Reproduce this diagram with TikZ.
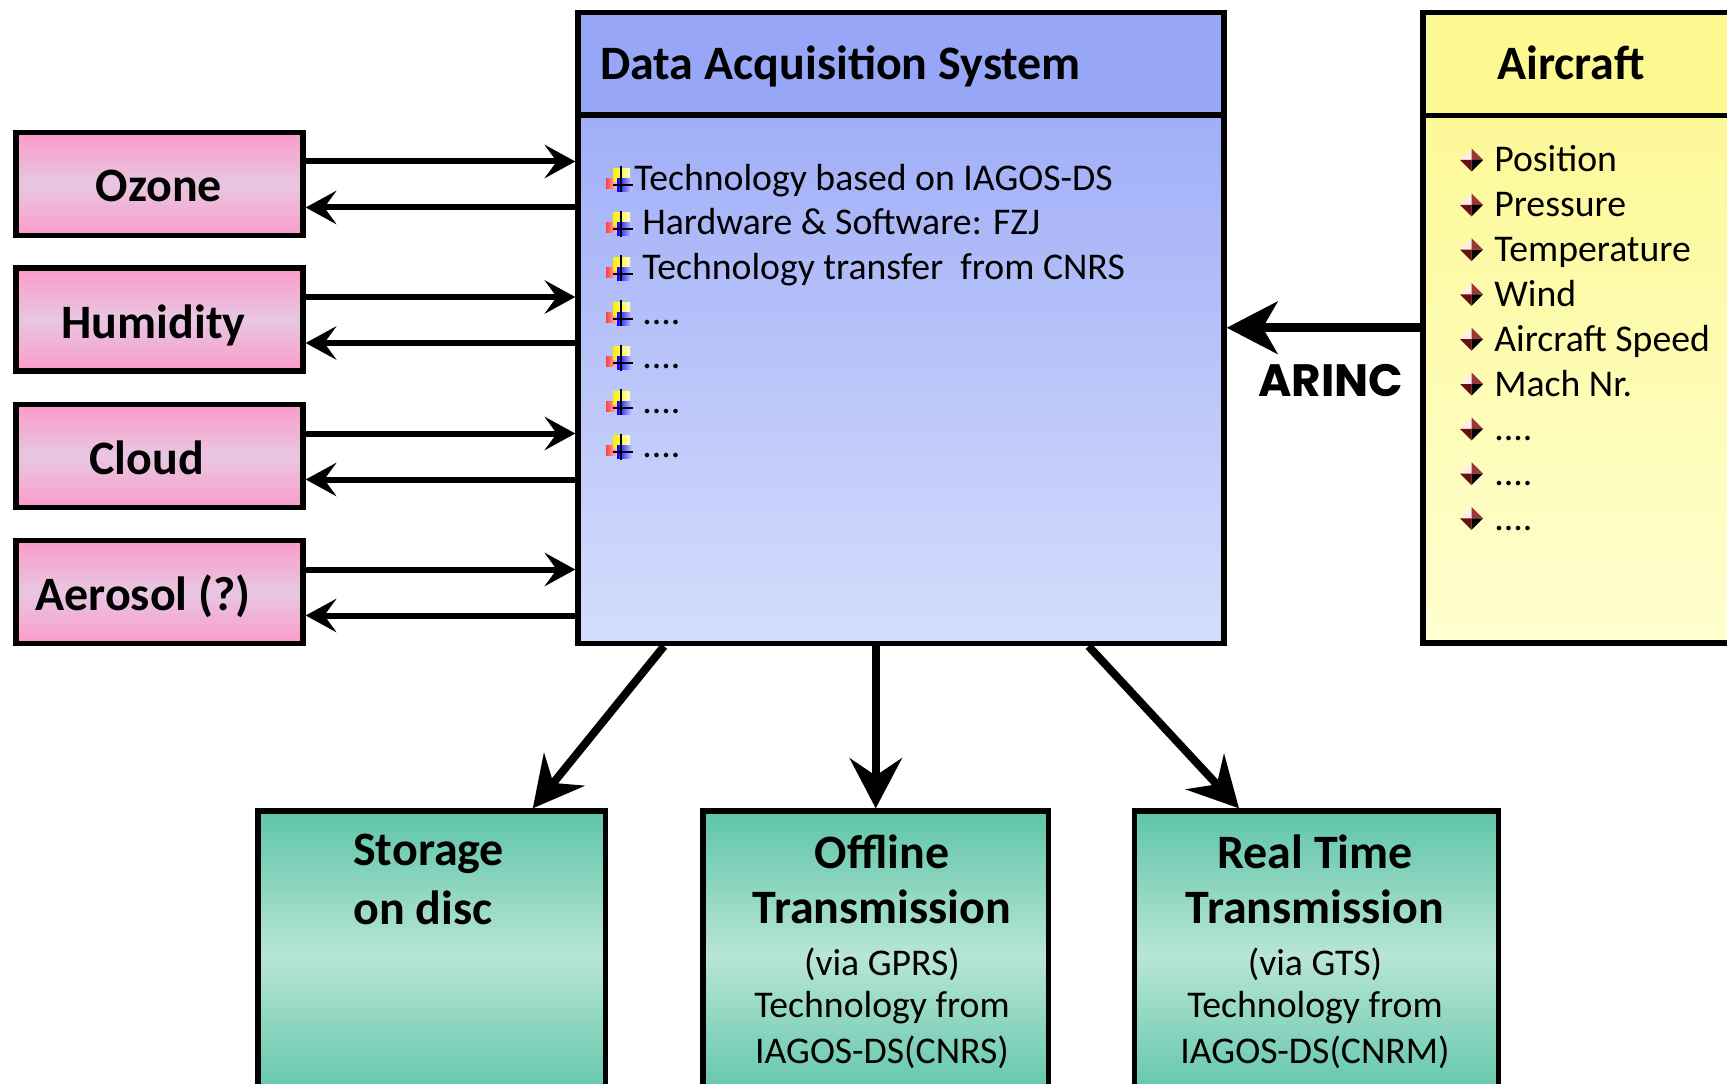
\documentclass[tikz,border=0pt]{standalone}
\usepackage{fontspec}
\setmainfont{Carlito}
\newfontfamily\arincfont{Poppins}
\usetikzlibrary{arrows.meta,calc}

\definecolor{dashead}{RGB}{151,166,246}
\definecolor{dastop}{RGB}{150,165,246}
\definecolor{dasbottom}{RGB}{213,221,252}
\definecolor{achead}{RGB}{252,248,146}
\definecolor{actop}{RGB}{252,247,140}
\definecolor{acbottom}{RGB}{255,255,208}
\definecolor{pinkedge}{RGB}{250,154,203}
\definecolor{pinkmid}{RGB}{232,199,226}
\definecolor{tealedge}{RGB}{94,197,168}
\definecolor{tealmid}{RGB}{184,229,214}
\definecolor{diamondred}{RGB}{155,55,55}
\definecolor{diamonddark}{RGB}{105,15,15}

\begin{document}
\begin{tikzpicture}[x=0.75pt,y=0.75pt,yscale=-1,xscale=1,
  box/.style={draw=black,line width=4pt,rectangle,inner sep=0pt},
  sensor/.style={box,minimum width=215.25pt,minimum height=77.25pt,top color=pinkedge,bottom color=pinkedge,middle color=pinkmid},
  output/.style={box,minimum height=216.75pt,top color=tealedge,bottom color=tealedge,middle color=tealmid},
  bigfont/.style={inner sep=0pt,font=\fontsize{36}{42}\selectfont\bfseries},
  itemfont/.style={inner sep=0pt,font=\fontsize{28.3}{34}\selectfont},
  link/.style={line width=4.5pt,-{Stealth[length=23pt,width=25pt,inset=9pt]}},
  heavy/.style={line width=6pt,-{Stealth[length=37.5pt,width=39pt,inset=13pt]}},
  feed/.style={line width=7pt,-{Stealth[length=38pt,width=39pt,inset=11pt]}},
  dasmark/.pic={
    \shade[left color=red!75!white,right color=red!10!white] (1,12) rectangle (15,2);
    \shade[left color=yellow!85!orange,right color=yellow!25!white] (8,22) rectangle (25,9);
    \shade[left color=blue,right color=blue!20!white] (12,12) rectangle (27,-1);
    \draw[line width=1.5pt] (16,24) -- (16,-2);
    \draw[line width=1.5pt] (8,5.5) -- (28,5.5);
  },
  acmark/.pic={
    \fill[white!92!red] (0,12) -- (11.5,23.5) -- (11.5,12) -- cycle;
    \fill[diamondred] (11.5,23.5) -- (23,12) -- (11.5,12) -- cycle;
    \fill[diamonddark] (0,12) -- (11.5,12) -- (11.5,0.5) -- cycle;
    \fill[black] (11.5,12) -- (23,12) -- (11.5,0.5) -- cycle;
  }]
\useasboundingbox (0,0) rectangle (1727,1084);

%Shape: Rectangle - data acquisition system
\node[box,minimum width=484.5pt,minimum height=473.25pt,top color=dastop,bottom color=dasbottom] (das) at (901,328) {};
\fill[dashead] ($(das.north west)+(5.3,5.3)$) rectangle ($(das.north east)+(-5.3,105.2)$);
\draw[line width=4pt] ($(das.north west)+(0,105.2)$) -- ($(das.north east)+(0,105.2)$);

%Shape: Rectangle - aircraft
\node[box,minimum width=241.5pt,minimum height=473pt,top color=actop,bottom color=acbottom] (aircraft) at (1584,327.75) {};
\fill[achead] ($(aircraft.north west)+(5.3,5.3)$) rectangle ($(aircraft.north east)+(-5.3,105.7)$);
\draw[line width=4pt] ($(aircraft.north west)+(0,105.7)$) -- ($(aircraft.north east)+(0,105.7)$);

%Shape: Rectangle - instruments
\node[sensor] (ozone) at (159.5,184) {};
\node[sensor] (humidity) at (159.5,319.5) {};
\node[sensor] (cloud) at (159.5,456) {};
\node[sensor] (aerosol) at (159.5,592) {};

%Shape: Rectangle - data output
\node[output,minimum width=260.6pt] (storage) at (431.75,955.5) {};
\node[output,minimum width=259.1pt] (offline) at (875.75,955.5) {};
\node[output,minimum width=273pt] (realtime) at (1316.5,955.5) {};

% Text Node
\node[bigfont,anchor=base west] (dastitle) at (600,80) {Data Acquisition System};
% Text Node
\node[bigfont,anchor=base] (actitle) at (1571,80) {Aircraft};

% Text Node
\node[bigfont,anchor=base] (ozonetxt) at (159,202) {Ozone};
\node[bigfont,anchor=base] (humiditytxt) at (153.5,338) {Humidity};
\node[bigfont,anchor=base] (cloudtxt) at (146.5,474.5) {Cloud};
\node[bigfont,anchor=base] (aerosoltxt) at (143,610.5) {Aerosol (?)};

%Bullets - data acquisition system
\pic at (605,190.5) {dasmark};
\node[itemfont,anchor=base west] (das1) at (634,190.5) {Technology based on IAGOS-DS};
\pic at (605,235) {dasmark};
\node[itemfont,anchor=base west] (das2) at (642,235) {Hardware \& Software: FZJ};
\pic at (605,279.5) {dasmark};
\node[itemfont,anchor=base west] (das3) at (642,279.5) {Technology transfer~ from CNRS};
\pic at (605,324) {dasmark};
\node[itemfont,anchor=base west] (das4) at (642,324) {....};
\pic at (605,368.5) {dasmark};
\node[itemfont,anchor=base west] (das5) at (642,368.5) {....};
\pic at (605,413) {dasmark};
\node[itemfont,anchor=base west] (das6) at (642,413) {....};
\pic at (605,457.5) {dasmark};
\node[itemfont,anchor=base west] (das7) at (642,457.5) {....};

%Bullets - aircraft
\pic at (1460,172) {acmark};
\node[itemfont,anchor=base west] (ac1) at (1494,172) {Position};
\pic at (1460,216.8) {acmark};
\node[itemfont,anchor=base west] (ac2) at (1494,216.8) {Pressure};
\pic at (1460,261.6) {acmark};
\node[itemfont,anchor=base west] (ac3) at (1494,261.6) {Temperature};
\pic at (1460,306.4) {acmark};
\node[itemfont,anchor=base west] (ac4) at (1494,306.4) {Wind};
\pic at (1460,351.2) {acmark};
\node[itemfont,anchor=base west] (ac5) at (1494,351.2) {Aircraft Speed};
\pic at (1460,396) {acmark};
\node[itemfont,anchor=base west] (ac6) at (1494,396) {Mach Nr.};
\pic at (1460,440.8) {acmark};
\node[itemfont,anchor=base west] (ac7) at (1494,440.8) {....};
\pic at (1460,485.6) {acmark};
\node[itemfont,anchor=base west] (ac8) at (1494,485.6) {....};
\pic at (1460,530.4) {acmark};
\node[itemfont,anchor=base west] (ac9) at (1494,530.4) {....};

% Text Node
\node[bigfont,anchor=base west] (st1) at (353,865) {Storage};
\node[bigfont,anchor=base west] (st2) at (353,924) {on disc};
% Text Node
\node[bigfont,anchor=base] (off1) at (882,868) {Offline};
\node[bigfont,anchor=base] (off2) at (882,923) {Transmission};
\node[itemfont,anchor=base] (off3) at (882,975) {(via GPRS)};
\node[itemfont,anchor=base] (off4) at (882,1017) {Technology from};
\node[itemfont,anchor=base] (off5) at (882,1063) {IAGOS-DS(CNRS)};
% Text Node
\node[bigfont,anchor=base] (rt1) at (1315,868) {Real Time};
\node[bigfont,anchor=base] (rt2) at (1315,923) {Transmission};
\node[itemfont,anchor=base] (rt3) at (1315,975) {(via GTS)};
\node[itemfont,anchor=base] (rt4) at (1315,1017) {Technology from};
\node[itemfont,anchor=base] (rt5) at (1315,1063) {IAGOS-DS(CNRM)};

% Text Node
\node[font=\arincfont\bfseries\fontsize{34}{40}\selectfont] (arinc) at (1331,381) {ARINC};

%Straight Lines - instruments to acquisition
\draw[link] ($(ozone.east)+(0,-22.5)$) -- ($(ozone.east -| das.west)+(0,-22.5)$);
\draw[link] ($(ozone.east -| das.west)+(0,23.5)$) -- ($(ozone.east)+(0,23.5)$);
\draw[link] ($(humidity.east)+(0,-22.5)$) -- ($(humidity.east -| das.west)+(0,-22.5)$);
\draw[link] ($(humidity.east -| das.west)+(0,23.5)$) -- ($(humidity.east)+(0,23.5)$);
\draw[link] ($(cloud.east)+(0,-22.5)$) -- ($(cloud.east -| das.west)+(0,-22.5)$);
\draw[link] ($(cloud.east -| das.west)+(0,23.5)$) -- ($(cloud.east)+(0,23.5)$);
\draw[link] ($(aerosol.east)+(0,-22.5)$) -- ($(aerosol.east -| das.west)+(0,-22.5)$);
\draw[link] ($(aerosol.east -| das.west)+(0,23.5)$) -- ($(aerosol.east)+(0,23.5)$);

%Straight Lines - aircraft data
\draw[feed] (aircraft.west) -- (aircraft.west -| das.east);

%Straight Lines - acquisition to outputs
\draw[heavy] ($(das.south)+(-237,0)$) -- ($(storage.north)+(101,0)$);
\draw[heavy] (das.south -| offline.north) -- (offline.north);
\draw[heavy] ($(das.south)+(187.5,0)$) -- ($(realtime.north)+(-77.5,0)$);

\end{tikzpicture}
\end{document}
